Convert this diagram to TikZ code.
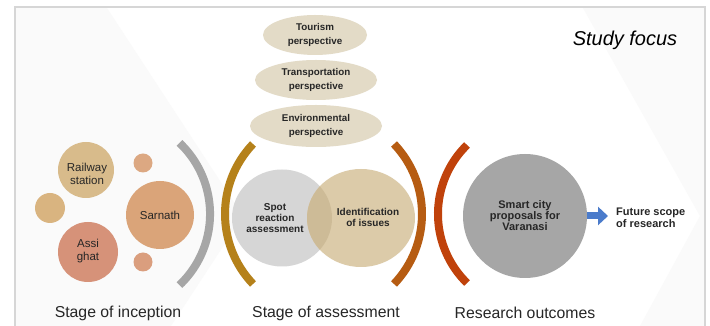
\documentclass[tikz,border=0pt]{standalone}
\usepackage{fontspec}
\setmainfont{Liberation Sans}
\usetikzlibrary{shapes.geometric,arrows.meta,calc}
\definecolor{framec}{HTML}{D6D6D6}
\definecolor{faintc}{HTML}{FAFAFA}
\definecolor{railc}{HTML}{D8BB8B}
\definecolor{sarnc}{HTML}{DAA479}
\definecolor{assic}{HTML}{D69279}
\definecolor{smallac}{HTML}{DCA882}
\definecolor{smallbc}{HTML}{D9B480}
\definecolor{smallcc}{HTML}{DA9E7E}
\definecolor{arcgrayc}{HTML}{A6A6A6}
\definecolor{arcbrownc}{HTML}{B5811A}
\definecolor{arcorangec}{HTML}{B65C12}
\definecolor{arcredc}{HTML}{C0420B}
\definecolor{spotc}{HTML}{D6D6D6}
\definecolor{idc}{HTML}{DCCBA9}
\definecolor{overlapc}{HTML}{CDBB97}
\definecolor{ellc}{HTML}{E3DBC7}
\definecolor{bigc}{HTML}{A6A6A6}
\definecolor{arrowc}{HTML}{4A7BCB}
\definecolor{txtc}{HTML}{262626}
\tikzset{
  dot/.style={circle, inner sep=0pt, minimum size=#1},
  lbl/.style={font=\fontsize{11.5}{13}\selectfont, text=txtc, align=center},
  blbl/.style={font=\bfseries\fontsize{10}{11}\selectfont, text=txtc, align=center},
  persp/.style={ellipse, fill=ellc, inner sep=0pt, font=\bfseries\fontsize{9.8}{13.5}\selectfont, text=txtc, align=center},
  stagelbl/.style={font=\fontsize{15.8}{18}\selectfont, text=txtc},
  bracketarc/.style={line width=8pt, line cap=butt},
  bluearrow/.style={line width=7pt, draw=arrowc, -{Triangle[length=10pt,width=18pt]}}
}
\begin{document}
\begin{tikzpicture}[x=1pt,y=1pt]
\useasboundingbox (0,0) rectangle (710,326);
\fill[white] (0,0) rectangle (710,326);
% faint background chevrons
\fill[faintc] (16,318) -- (107,318) -- (243,110) -- (171,0) -- (16,0) -- cycle;
\fill[faintc] (583,318) -- (704,318) -- (704,0) -- (640,0) -- (700,110) -- cycle;
% frame
\draw[framec, line width=2pt] (15,0) -- (15,319) -- (705,319) -- (705,0);

% Stage of inception
\node[dot=19pt, fill=smallac] (sa) at (143,163) {};
\node[dot=30pt, fill=smallbc] (sb) at (50,118) {};
\node[dot=19pt, fill=smallcc] (sc) at (143,64) {};
\node[dot=56pt, fill=railc] (rail) at (86,156) {};
\node[lbl] (railt) at (87,152.5) {Railway\\station};
\node[dot=68pt, fill=sarnc] (sarn) at (160,111) {};
\node[lbl] (sarnt) at (160,111) {Sarnath};
\node[dot=60pt, fill=assic] (assi) at (88,74) {};
\node[lbl] (assit) at (88,74.5) {Assi\\ghat};
\draw[bracketarc, arcgrayc] (179.5,183.1) arc[start angle=46.5, end angle=-46.5, radius=98pt];

% Stage of assessment
\node[persp, minimum width=104pt, minimum height=40pt] (tour) at (315,291) {Tourism\\perspective};
\node[persp, minimum width=122pt, minimum height=40pt] (trans) at (316,246) {Transportation\\perspective};
\node[persp, minimum width=132pt, minimum height=42pt] (env) at (316,200) {Environmental\\perspective};
\node[ellipse, inner sep=0pt, fill=spotc, minimum width=100pt, minimum height=97pt] (spot) at (282,108) {};
\node[ellipse, inner sep=0pt, fill=idc, minimum width=108pt, minimum height=98pt] (iden) at (361,108) {};
\begin{scope}
\clip (282,108) ellipse [x radius=50pt, y radius=48.5pt];
\fill[overlapc] (361,108) ellipse [x radius=54pt, y radius=49pt];
\end{scope}
\node[blbl] (spott) at ($(spot.center)+(-7,0)$) {Spot\\reaction\\assessment};
\node[blbl] (ident) at ($(iden.center)+(7,1)$) {Identification\\of issues};
\draw[bracketarc, arcbrownc] (253,182) arc[start angle=136.4, end angle=223.6, radius=101.5pt];
\draw[bracketarc, arcorangec] (394,182) arc[start angle=43.6, end angle=-43.6, radius=101.5pt];

% Research outcomes
\draw[bracketarc, arcredc] (467,181) arc[start angle=134.4, end angle=225.6, radius=96.6pt];
\node[dot=124pt, fill=bigc, font=\bfseries\fontsize{11}{11}\selectfont, text=txtc, align=center] (smart) at (525,110) {Smart city\\proposals for\\Varanasi};
\node[font=\bfseries\fontsize{11}{12}\selectfont, text=txtc, align=left, anchor=west, inner sep=1pt] (future) at (615,108) {Future scope\\of research};
\draw[bluearrow] (smart.east) -- ($(smart.east -| future.west)+(-7,0)$);

% stage labels
\node[stagelbl] (st1) at (118,13) {Stage of inception};
\node[stagelbl] (st2) at (326,13) {Stage of assessment};
\node[stagelbl] (st3) at (525,13) {Research outcomes};
\node[font=\itshape\fontsize{20}{24}\selectfont, text=black] (focus) at (625,286) {Study focus};
\end{tikzpicture}
\end{document}
